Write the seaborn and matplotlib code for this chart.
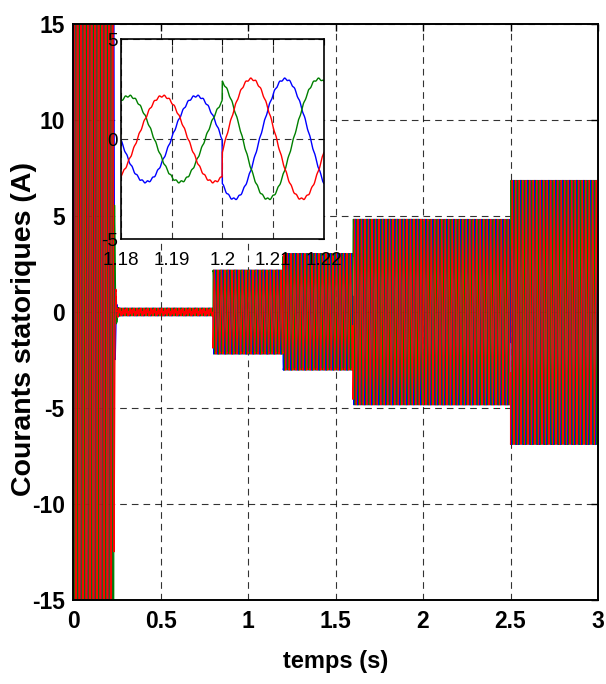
import numpy as np
import pandas as pd
import matplotlib
matplotlib.use("Agg")
import matplotlib.pyplot as plt
import seaborn as sns

# Operating segments: start time (s), peak stator current (A), electrical phase (deg)
seg_start = [0.0, 0.232, 0.8, 1.2, 1.6, 2.0, 2.5]
seg_amp = [30.0, 0.15, 2.15, 3.0, 4.8, 4.8, 6.85]
seg_phase = [0.0, 0.0, 29.0, -18.0, 40.0, 10.0, 60.0]
t_end = 3.0
f_supply = 50.0          # Hz
startup_tau = 0.004      # s, decay of the starting current
ripple_amp = 0.05        # A, inverter switching ripple
ripple_freq = 1000.0     # Hz

# Three phases: name, colour, lag behind phase "b" (deg)
phase_names = ["ia", "ib", "ic"]
phase_colors = ["blue", "green", "red"]
phase_lag = [240.0, 0.0, 120.0]

# Axis ticks
main_xticks = [0, 0.5, 1, 1.5, 2, 2.5, 3]
main_xlabels = ["0", "0.5", "1", "1.5", "2", "2.5", "3"]
main_yticks = [-15, -10, -5, 0, 5, 10, 15]
zoom_xticks = [1.18, 1.19, 1.2, 1.21, 1.22]
zoom_xlabels = ["1.18", "1.19", "1.2", "1.21", "1.22"]
zoom_yticks = [-5, 0, 5]

# ---- build the waveforms -------------------------------------------------
t = np.arange(0.0, t_end + 1e-9, 5e-5)
idx = np.searchsorted(seg_start, t, side="right") - 1
amp = np.asarray(seg_amp)[idx]
phi = np.deg2rad(np.asarray(seg_phase)[idx])
# starting current dies out quickly after the first segment
amp = np.where(idx == 1,
               seg_amp[1] + (seg_amp[0] - seg_amp[1]) * np.exp(-(t - seg_start[1]) / startup_tau),
               amp)
w = 2 * np.pi * f_supply

frames = []
for k, (name, lag) in enumerate(zip(phase_names, phase_lag)):
    i = amp * np.cos(w * t - phi - np.deg2rad(lag))
    i = i + ripple_amp * np.sin(2 * np.pi * ripple_freq * t + 2.1 * k)
    frames.append(pd.DataFrame({"t": t, "i": i, "phase": name}))
df = pd.concat(frames, ignore_index=True)
palette = dict(zip(phase_names, phase_colors))

# ---- figure ---------------------------------------------------------------
sns.set_theme(style="white", rc={
    "text.color": "black", "axes.labelcolor": "black",
    "xtick.color": "black", "ytick.color": "black",
    "xtick.direction": "in", "ytick.direction": "in",
    "axes.unicode_minus": False,
})
plt.rcParams["font.family"] = ["Liberation Sans", "DejaVu Sans"]

fig = plt.figure(figsize=(6.06, 6.84), dpi=100)
ax = fig.add_axes([73 / 606, 84 / 684, 525 / 606, 576 / 684])

sns.lineplot(data=df, x="t", y="i", hue="phase", palette=palette,
             hue_order=phase_names, estimator=None, sort=False,
             linewidth=0.8, legend=False, ax=ax)

ax.set_xlim(0, 3)
ax.set_ylim(-15, 15)
ax.set_xticks(main_xticks)
ax.set_xticklabels(main_xlabels)
ax.set_yticks(main_yticks)
ax.tick_params(axis="both", which="both", labelsize=16.5, length=5, width=1,
               color="black", top=True, right=True)
ax.tick_params(axis="x", pad=7)
ax.tick_params(axis="y", pad=6)
for lab in ax.get_xticklabels() + ax.get_yticklabels():
    lab.set_fontweight("bold")
ax.grid(True, color="black", linestyle=(0, (6, 4.5)), linewidth=0.8, alpha=0.8)
for sp in ax.spines.values():
    sp.set_color("black")
    sp.set_linewidth(1.4)

ax.set_xlabel("temps (s)", fontsize=17, fontweight="bold")
ax.xaxis.set_label_coords(0.5, -0.106)
ax.xaxis.label.set_va("center")
ax.set_ylabel("Courants statoriques (A)", fontsize=20.5, fontweight="bold")
ax.yaxis.set_label_coords(-0.094, 0.47)
ax.yaxis.label.set_va("center")

# ---- zoomed view around the load step at 1.2 s --------------------------
axi = fig.add_axes([120.7 / 606, 445 / 684, 203.3 / 606, 200 / 684])
axi.set_facecolor("white")
dz = df[(df["t"] >= 1.18) & (df["t"] <= 1.22)]
sns.lineplot(data=dz, x="t", y="i", hue="phase", palette=palette,
             hue_order=phase_names, estimator=None, sort=False,
             linewidth=1.0, legend=False, ax=axi)
axi.set_xlim(1.18, 1.22)
axi.set_ylim(-5, 5)
axi.set_xticks(zoom_xticks)
axi.set_xticklabels(zoom_xlabels)
axi.set_yticks(zoom_yticks)
axi.set_xlabel("")
axi.set_ylabel("")
axi.tick_params(axis="both", labelsize=13.5, length=4, width=0.8, color="black",
                top=True, right=True)
axi.tick_params(axis="x", pad=9)
axi.tick_params(axis="y", pad=2)
axi.grid(True, color="black", linestyle=(0, (6, 4.5)), linewidth=0.8, alpha=0.8)
for sp in axi.spines.values():
    sp.set_color("black")
    sp.set_linewidth(1.2)

fig.savefig("out.png", dpi=100)
